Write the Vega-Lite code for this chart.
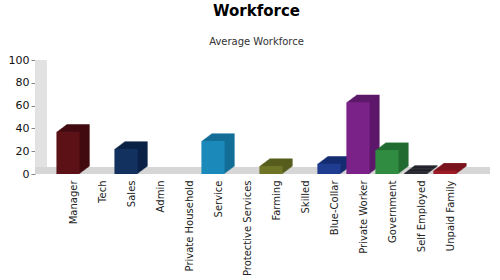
{
  "$schema": "https://vega.github.io/schema/vega-lite/v6.json",
  "width": 443,
  "height": 114,
  "padding": {"left": 8, "right": 5, "top": 4, "bottom": 0},
  "background": "white",
  "title": {
    "text": "Workforce",
    "subtitle": "Average Workforce",
    "font": "DejaVu Sans",
    "fontSize": 15,
    "fontWeight": "bold",
    "color": "#000000",
    "subtitleFont": "DejaVu Sans",
    "subtitleFontSize": 10,
    "subtitleColor": "#333333",
    "subtitlePadding": 18,
    "anchor": "middle",
    "offset": 7
  },
  "config": {"view": {"stroke": null}, "font": "DejaVu Sans"},
  "data": {
    "values": [
      {"job": "Manager", "value": 37},
      {"job": "Tech", "value": 0},
      {"job": "Sales", "value": 22},
      {"job": "Admin", "value": 0},
      {"job": "Private Household", "value": 0},
      {"job": "Service", "value": 29},
      {"job": "Protective Services", "value": 0},
      {"job": "Farming", "value": 7},
      {"job": "Skilled", "value": 0},
      {"job": "Blue-Collar", "value": 9},
      {"job": "Private Worker", "value": 63},
      {"job": "Government", "value": 21},
      {"job": "Self Employed", "value": 1},
      {"job": "Unpaid Family", "value": 3}
    ]
  },
  "encoding": {
    "x": {
      "field": "job",
      "type": "nominal",
      "sort": null,
      "scale": {"paddingInner": 0.2, "paddingOuter": 0.74},
      "axis": {
        "title": null,
        "labelAngle": -90,
        "labelFontSize": 10,
        "labelColor": "#222222",
        "labelFont": "DejaVu Sans",
        "ticks": false,
        "domain": false,
        "labelPadding": 6,
        "labelOffset": 6
      }
    },
    "y": {
      "field": "value",
      "type": "quantitative",
      "scale": {"domain": [0, 100]},
      "axis": {
        "title": null,
        "values": [0, 20, 40, 60, 80, 100],
        "grid": false,
        "labelFontSize": 11,
        "labelColor": "#111111",
        "tickSize": 4,
        "tickColor": "#888888",
        "domain": false
      }
    }
  },
  "layer": [
    {
      "mark": {"type": "rule", "color": "#e2e2e2", "strokeWidth": 12, "xOffset": 6, "yOffset": -4},
      "encoding": {"x": {"value": 0}, "y": {"datum": 0}, "y2": {"datum": 100}}
    },
    {
      "mark": {"type": "rule", "color": "#d6d6d6", "strokeWidth": 7, "yOffset": -3.5},
      "encoding": {"x": {"value": 0}, "x2": {"value": 455}, "y": {"datum": 0}}
    },
    {"mark": {"type": "bar", "xOffset": 10, "yOffset": -7.5}, "encoding": {"fill": {"field": "job", "legend": null, "scale": {"domain": ["Manager","Tech","Sales","Admin","Private Household","Service","Protective Services","Farming","Skilled","Blue-Collar","Private Worker","Government","Self Employed","Unpaid Family"], "range": ["#420b10","#666666","#0c2347","#666666","#666666","#146e97","#666666","#565c1d","#666666","#152c70","#5d186a","#226c30","#1f1f28","#7b141d"]}}}},
    {"mark": {"type": "bar", "xOffset": 9, "yOffset": -6.75}, "encoding": {"fill": {"field": "job", "legend": null}}},
    {"mark": {"type": "bar", "xOffset": 8, "yOffset": -6}, "encoding": {"fill": {"field": "job", "legend": null}}},
    {"mark": {"type": "bar", "xOffset": 7, "yOffset": -5.25}, "encoding": {"fill": {"field": "job", "legend": null}}},
    {"mark": {"type": "bar", "xOffset": 6, "yOffset": -4.5}, "encoding": {"fill": {"field": "job", "legend": null}}},
    {"mark": {"type": "bar", "xOffset": 5, "yOffset": -3.75}, "encoding": {"fill": {"field": "job", "legend": null}}},
    {"mark": {"type": "bar", "xOffset": 4, "yOffset": -3}, "encoding": {"fill": {"field": "job", "legend": null}}},
    {"mark": {"type": "bar", "xOffset": 3, "yOffset": -2.25}, "encoding": {"fill": {"field": "job", "legend": null}}},
    {"mark": {"type": "bar", "xOffset": 2, "yOffset": -1.5}, "encoding": {"fill": {"field": "job", "legend": null}}},
    {"mark": {"type": "bar", "xOffset": 1, "yOffset": -0.75}, "encoding": {"fill": {"field": "job", "legend": null}}},
    {
      "mark": {"type": "bar"},
      "encoding": {"color": {"field": "job", "legend": null, "scale": {"domain": ["Manager","Tech","Sales","Admin","Private Household","Service","Protective Services","Farming","Skilled","Blue-Collar","Private Worker","Government","Self Employed","Unpaid Family"], "range": ["#5c1117","#888888","#12315f","#888888","#888888","#1b89b9","#888888","#6e7526","#888888","#1e3c90","#7b2289","#2f8c40","#2b2b36","#9d1b25"]}}}
    }
  ]
}
